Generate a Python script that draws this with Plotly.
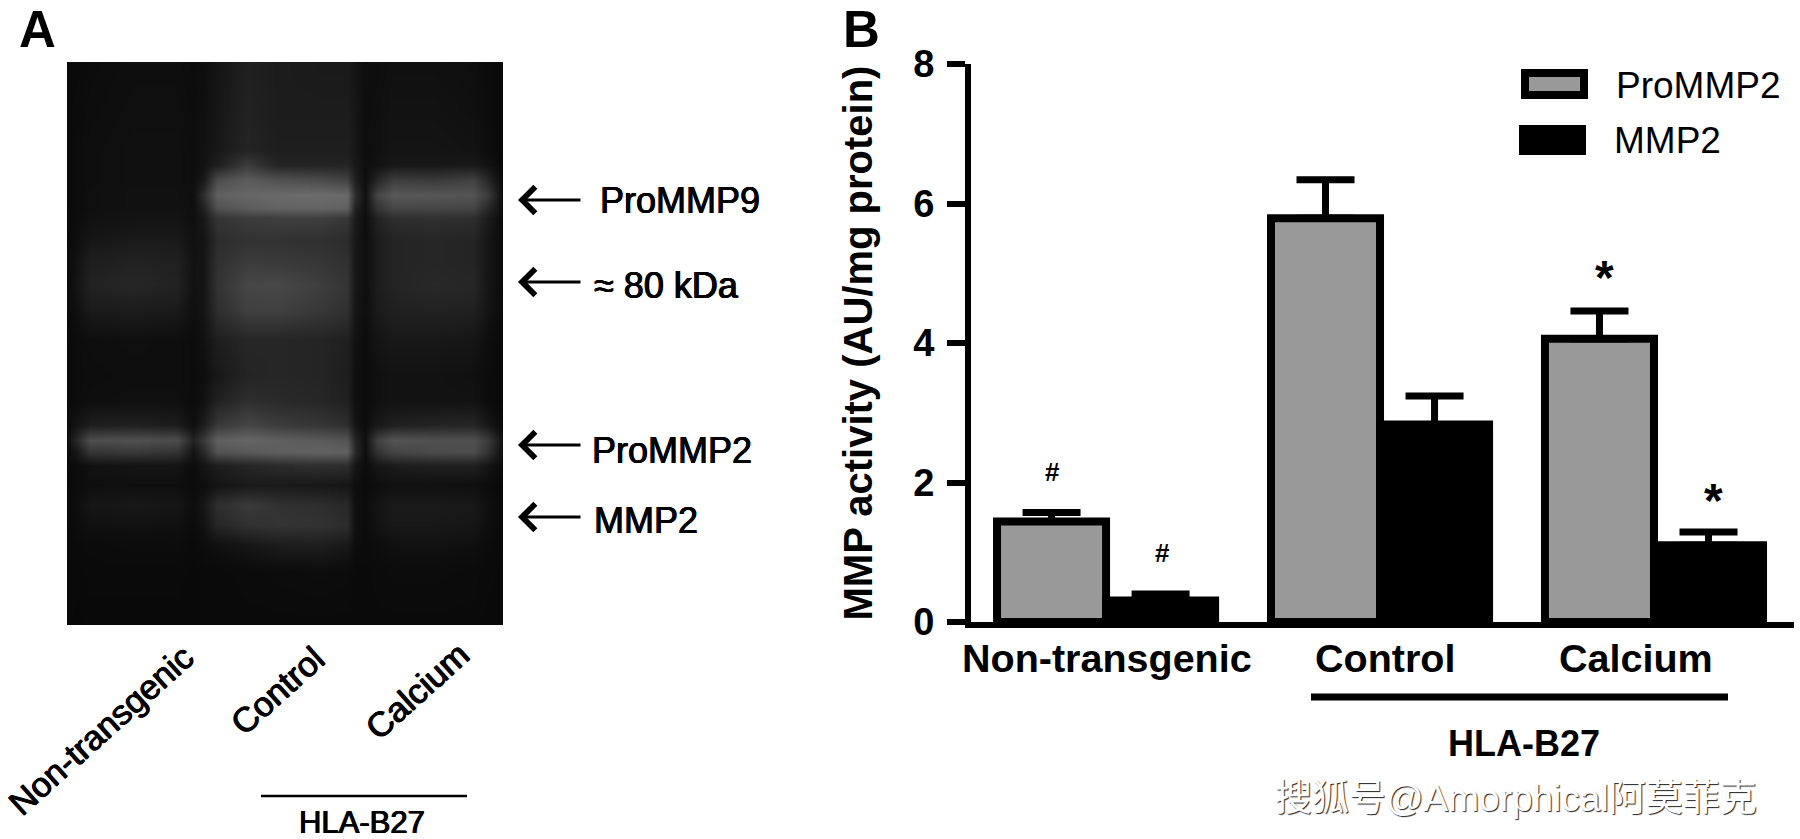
import plotly.graph_objects as go

W, H = 1800, 839

# ---------- Panel B data ----------
groups = ["Non-transgenic", "Control", "Calcium"]
promm2_values = [1.44, 5.79, 4.06]
promm2_errors = [0.13, 0.55, 0.40]
mmp2_values = [0.31, 2.83, 1.10]
mmp2_errors = [0.09, 0.41, 0.19]
y_ticks = [0, 2, 4, 6, 8]

# ---------- Panel A data: grey levels ----------
gel_x = [67, 77, 90, 133, 177, 193, 203, 217, 247, 277, 320, 347, 355, 365, 377, 393, 433, 473, 487, 503]
gel_y = [62, 110, 150, 165, 180, 195, 208, 218, 240, 262, 285, 310, 340, 375, 400, 425, 440, 452, 465, 485, 505, 525, 545, 570, 625]
gel_grey = [
    [10, 10, 12, 14, 14, 12, 14, 20, 32, 28, 26, 26, 20, 14, 14, 16, 16, 14, 12, 8],
    [10, 11, 13, 15, 15, 13, 15, 22, 34, 28, 28, 28, 22, 14, 15, 18, 18, 16, 12, 8],
    [10, 12, 14, 16, 16, 14, 17, 24, 36, 30, 30, 30, 22, 14, 16, 20, 20, 18, 14, 8],
    [10, 12, 14, 16, 16, 14, 18, 30, 60, 36, 36, 36, 24, 14, 18, 24, 24, 26, 18, 8],
    [10, 12, 14, 16, 16, 14, 24, 76, 92, 82, 76, 66, 30, 14, 38, 62, 58, 66, 40, 9],
    [10, 12, 15, 17, 17, 15, 44, 96, 102, 106, 108, 106, 46, 16, 68, 88, 86, 84, 60, 10],
    [10, 12, 15, 17, 17, 15, 32, 80, 92, 98, 100, 96, 34, 15, 52, 70, 70, 68, 42, 10],
    [10, 13, 16, 19, 19, 15, 24, 52, 60, 62, 62, 54, 26, 14, 34, 46, 48, 46, 28, 10],
    [10, 15, 22, 26, 26, 16, 20, 44, 50, 50, 48, 44, 24, 14, 28, 36, 38, 36, 22, 10],
    [10, 18, 30, 34, 32, 18, 20, 48, 60, 58, 54, 48, 24, 14, 28, 36, 38, 36, 22, 10],
    [10, 20, 34, 38, 34, 18, 20, 50, 70, 72, 62, 52, 24, 14, 28, 36, 40, 38, 22, 10],
    [10, 16, 26, 28, 26, 15, 20, 46, 64, 64, 56, 48, 22, 14, 26, 32, 34, 32, 20, 10],
    [10, 12, 14, 15, 14, 12, 16, 30, 38, 38, 36, 32, 18, 12, 20, 24, 24, 22, 14, 9],
    [10, 12, 13, 14, 14, 12, 14, 24, 36, 38, 36, 30, 16, 12, 16, 18, 18, 16, 12, 9],
    [10, 12, 14, 15, 15, 12, 16, 32, 46, 42, 38, 32, 16, 12, 16, 18, 18, 18, 12, 9],
    [11, 20, 30, 32, 28, 14, 28, 56, 70, 60, 54, 46, 20, 12, 24, 32, 36, 38, 24, 9],
    [13, 42, 78, 80, 76, 34, 56, 96, 102, 96, 90, 84, 36, 15, 64, 84, 80, 80, 60, 15],
    [11, 24, 52, 56, 52, 20, 38, 82, 88, 94, 98, 96, 42, 14, 50, 68, 74, 76, 52, 12],
    [10, 12, 18, 20, 20, 12, 20, 30, 38, 44, 48, 46, 22, 12, 22, 28, 32, 32, 22, 10],
    [10, 12, 14, 15, 15, 12, 14, 20, 26, 26, 24, 22, 14, 12, 14, 16, 16, 15, 12, 9],
    [10, 14, 22, 24, 22, 13, 22, 46, 58, 50, 46, 40, 16, 12, 20, 26, 26, 24, 16, 9],
    [10, 12, 16, 17, 16, 12, 18, 38, 48, 52, 50, 44, 16, 12, 18, 24, 24, 22, 14, 9],
    [10, 10, 11, 12, 12, 10, 12, 16, 22, 28, 30, 24, 13, 11, 13, 16, 17, 15, 11, 9],
    [9, 9, 10, 10, 10, 9, 10, 10, 11, 12, 13, 12, 10, 10, 11, 12, 12, 11, 10, 9],
    [9, 8, 9, 9, 9, 9, 10, 10, 10, 10, 10, 10, 10, 10, 10, 10, 10, 10, 9, 9],
]
band_labels = ["ProMMP9", "\u2248 80 kDa", "ProMMP2", "MMP2"]
band_arrow_y = [200, 282, 445, 517]
band_label_xy = [(598, 200), (592, 286), (590, 450), (592, 520)]

FONT = "Liberation Sans, Arial, sans-serif"
GREY = "#999999"
THICKEN = "0.6px 0 0 #000000, -0.6px 0 0 #000000, 0 0.4px 0 #000000"


def px(x):
    return x / W


def py(y):
    return 1 - y / H


def label(text, x, y, size, weight=400, anchor="center", angle=0, color="black", shadow=None, family=FONT):
    font = dict(family=family, size=size, color=color, weight=weight)
    if shadow:
        font["shadow"] = shadow
    return dict(text=text, x=px(x), y=py(y), xref="paper", yref="paper", showarrow=False,
                xanchor=anchor, yanchor="middle", textangle=angle, font=font)


fig = go.Figure()

fig.add_trace(go.Heatmap(x=gel_x, y=gel_y, z=gel_grey, zmin=0, zmax=255, zsmooth="best",
                         colorscale=[[0, "#000000"], [1, "#ffffff"]], showscale=False,
                         hoverinfo="skip", xaxis="x", yaxis="y"))

bar_line = dict(color="black", width=8)
fig.add_trace(go.Bar(name="ProMMP2", x=groups, y=promm2_values, xaxis="x2", yaxis="y2",
                     marker=dict(color=GREY, line=bar_line),
                     error_y=dict(type="data", array=promm2_errors, symmetric=False,
                                  arrayminus=[0, 0, 0], color="black", thickness=7, width=29)))
fig.add_trace(go.Bar(name="MMP2", x=groups, y=mmp2_values, xaxis="x2", yaxis="y2",
                     marker=dict(color="black", line=bar_line),
                     error_y=dict(type="data", array=mmp2_errors, symmetric=False,
                                  arrayminus=[0, 0, 0], color="black", thickness=7, width=29)))

annotations = [
    label("A", 37.5, 30, 51, 700),
    label("B", 861, 30, 51, 700),
    label("Non-transgenic", 101, 730, 34.5, angle=-42, shadow=THICKEN),
    label("Control", 277, 691, 34.5, angle=-42, shadow=THICKEN),
    label("Calcium", 417, 691, 34.5, angle=-42, shadow=THICKEN),
    label("HLA-B27", 362, 822, 31, shadow=THICKEN),
    label("Non-transgenic", 1107, 658, 39.5, 700),
    label("Control", 1385, 658, 39.5, 700),
    label("Calcium", 1636, 658, 39.5, 700),
    label("HLA-B27", 1524, 743, 36, 700),
    label("ProMMP2", 1614, 85, 37, anchor="left"),
    label("MMP2", 1612, 141, 37, anchor="left"),
    label("#", 1052, 472, 26, 700),
    label("#", 1162, 553, 26, 700),
    label("*", 1604, 277, 48, 700),
    label("*", 1713, 500, 48, 700),
    label("\u641c\u72d0\u53f7@Amorphical\u963f\u83ab\u83f2\u514b", 1516, 798, 37, color="white",
          shadow="1px 1px 1px #222222", family="Liberation Sans, Noto Sans CJK SC, sans-serif"),
]
for text, y_arrow, (lx, ly) in zip(band_labels, band_arrow_y, band_label_xy):
    annotations.append(label(text, lx, ly, 36, anchor="left", shadow=THICKEN))
    annotations.append(dict(text="", x=px(518), y=py(y_arrow), xref="paper", yref="paper",
                            ax=64, ay=0, axref="pixel", ayref="pixel", showarrow=True,
                            arrowhead=4, arrowsize=1.7, arrowwidth=3, arrowcolor="black"))

shapes = [
    dict(type="line", xref="paper", yref="paper", x0=px(261), x1=px(467), y0=py(796), y1=py(796),
         line=dict(color="black", width=2.5)),
    dict(type="line", xref="paper", yref="paper", x0=px(1311), x1=px(1728), y0=py(697), y1=py(697),
         line=dict(color="black", width=7)),
    dict(type="rect", xref="paper", yref="paper", x0=px(1525), x1=px(1584), y0=py(73), y1=py(95),
         fillcolor=GREY, line=dict(color="black", width=8)),
    dict(type="rect", xref="paper", yref="paper", x0=px(1519), x1=px(1586), y0=py(125), y1=py(155),
         fillcolor="black", line=dict(color="black", width=0)),
]

fig.update_layout(
    width=W, height=H, margin=dict(l=0, r=0, t=0, b=0),
    paper_bgcolor="white", plot_bgcolor="white",
    showlegend=False, barmode="group", bargap=0.204, bargroupgap=0,
    font=dict(family=FONT, color="black"),
    annotations=annotations, shapes=shapes,
    xaxis=dict(domain=[px(67), px(503)], range=[67, 503], visible=False, automargin=False),
    yaxis=dict(domain=[py(625), py(62)], range=[625, 62], visible=False, automargin=False),
    xaxis2=dict(domain=[px(971), px(1794)], range=[-0.493, 2.511], anchor="y2", automargin=False,
                showticklabels=False, ticks="", showgrid=False, zeroline=False,
                showline=True, linecolor="black", linewidth=6),
    yaxis2=dict(domain=[py(622), py(64)], range=[0, 8], anchor="x2", tickvals=y_ticks, automargin=False,
                ticks="outside", ticklen=18, tickwidth=6, tickcolor="black",
                tickfont=dict(family=FONT, size=38, color="black", weight=700),
                ticklabelstandoff=5,
                showgrid=False, zeroline=False, showline=True, linecolor="black", linewidth=6,
                title=dict(text="MMP activity (AU/mg protein)", standoff=30,
                           font=dict(family=FONT, size=40, color="black", weight=700))),
)

fig.write_html("out.html", config={"displayModeBar": False},
               post_script="document.body.style.margin='0';")
